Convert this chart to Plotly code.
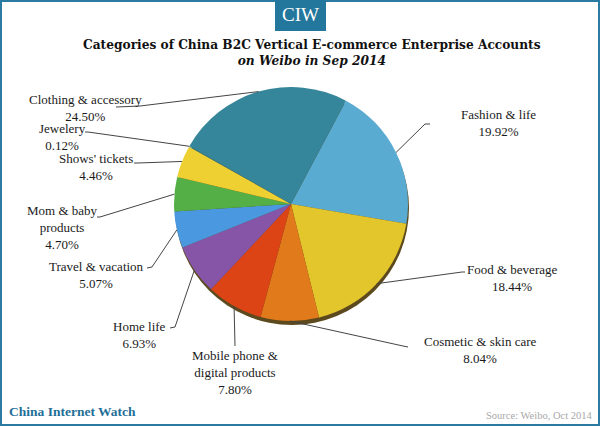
import math
import plotly.graph_objects as go

# ---- data ----
categories = ["Fashion & life", "Food & beverage", "Cosmetic & skin care",
              "Mobile phone &<br>digital products", "Home life", "Travel & vacation",
              "Mom & baby<br>products", "Shows' tickets", "Jewelery", "Clothing & accessory"]
values = [19.92, 18.44, 8.04, 7.80, 6.93, 5.07, 4.70, 4.46, 0.12, 24.50]
value_labels = ["19.92%", "18.44%", "8.04%", "7.80%", "6.93%", "5.07%", "4.70%", "4.46%", "0.12%", "24.50%"]

# ---- style / layout ----
colors = ["#5aabd2", "#e3c52c", "#e07a1a", "#dc4416", "#8755a8", "#4a98e0",
          "#54b046", "#eed032", "#3a8a9c", "#35869a"]
SERIF = "Liberation Serif, Tinos, Times New Roman, Times, serif"
W, H = 600, 426
CX, CY, R = 291, 204, 117
ROT = 28
# label centre (pixels) and leader line elbow/end (pixels)
label_pos = [(498, 123), (512, 278), (480, 350), (235, 372), (139, 335), (97, 275),
             (62, 228), (96, 167), (62, 137), (85, 108)]
elbows = [(425, 124), (462, 272), (403, 346), (235, 346), (175, 327), (152, 267),
          (100, 217), (138, 163), (88, 132), (140, 106)]
ends = [(430, 124), (465, 272), (408, 347), (235, 346), (170, 328), (147, 268),
        (97, 217), (134, 163), (85, 132), (116, 107)]

def px(x):
    return x / W

def py(y):
    return 1 - y / H

fig = go.Figure()
fig.add_trace(go.Pie(
    labels=categories, values=values, sort=False, direction="clockwise",
    rotation=ROT, textinfo="none", hoverinfo="label+percent",
    marker=dict(colors=colors, line=dict(width=0)),
    domain=dict(x=[px(CX - R), px(CX + R)], y=[py(CY + R), py(CY - R)]),
    showlegend=False,
))

shapes = []
# shadow under pie
shapes.append(dict(type="circle", xref="paper", yref="paper", layer="below",
                   x0=px(CX - R + 1), x1=px(CX + R + 1), y0=py(CY + R + 4), y1=py(CY - R + 4),
                   fillcolor="#5c4a1e", line=dict(width=0)))
# border
shapes.append(dict(type="rect", xref="paper", yref="paper", x0=0, x1=1, y0=0, y1=1,
                   line=dict(color="#2a7aa2", width=4), fillcolor="rgba(0,0,0,0)"))
# CIW box
shapes.append(dict(type="rect", xref="paper", yref="paper", x0=px(275), x1=px(326),
                   y0=py(31), y1=1, fillcolor="#23769c", line=dict(width=0)))

annotations = []
total = sum(values)
cum = 0.0
for i, v in enumerate(values):
    mid = ROT + (cum + v / 2) / total * 360
    cum += v
    a = math.radians(mid)
    ex, ey = CX + R * math.sin(a), CY - R * math.cos(a)
    (bx, by), (qx, qy) = elbows[i], ends[i]
    shapes.append(dict(type="path", xref="paper", yref="paper",
                       path=f"M {px(ex)} {py(ey)} L {px(bx)} {py(by)} L {px(qx)} {py(qy)}",
                       line=dict(color="#444444", width=1)))
    lx, ly = label_pos[i]
    annotations.append(dict(x=px(lx), y=py(ly), xref="paper", yref="paper",
                            text=categories[i] + "<br>" + value_labels[i], showarrow=False,
                            xanchor="center", yanchor="middle",
                            font=dict(family=SERIF, size=13, color="#1a1a1a")))

annotations.append(dict(x=px(300.5), y=py(15), xref="paper", yref="paper", text="CIW",
                        showarrow=False, xanchor="center", yanchor="middle",
                        font=dict(family=SERIF, size=19, color="white")))
annotations.append(dict(x=px(312), y=py(53), xref="paper", yref="paper",
                        text="<b>Categories of China B2C Vertical E-commerce Enterprise Accounts</b><br><b><i>on Weibo in Sep 2014</i></b>",
                        showarrow=False, xanchor="center", yanchor="middle",
                        font=dict(family="DejaVu Serif", size=12.2, color="#111111")))
annotations.append(dict(x=px(7), y=py(411), xref="paper", yref="paper", text="<b>China Internet Watch</b>",
                        showarrow=False, xanchor="left", yanchor="middle",
                        font=dict(family=SERIF, size=13.5, color="#1f6f98")))
annotations.append(dict(x=px(594), y=py(415), xref="paper", yref="paper", text="Source: Weibo, Oct 2014",
                        showarrow=False, xanchor="right", yanchor="middle",
                        font=dict(family=SERIF, size=10.5, color="#a8a8a8")))

fig.update_layout(width=W, height=H, margin=dict(l=0, r=0, t=0, b=0),
                  paper_bgcolor="white", plot_bgcolor="white",
                  shapes=shapes, annotations=annotations)
fig.write_html("out.html", config={"displayModeBar": False},
               post_script="document.body.style.margin='0';")
